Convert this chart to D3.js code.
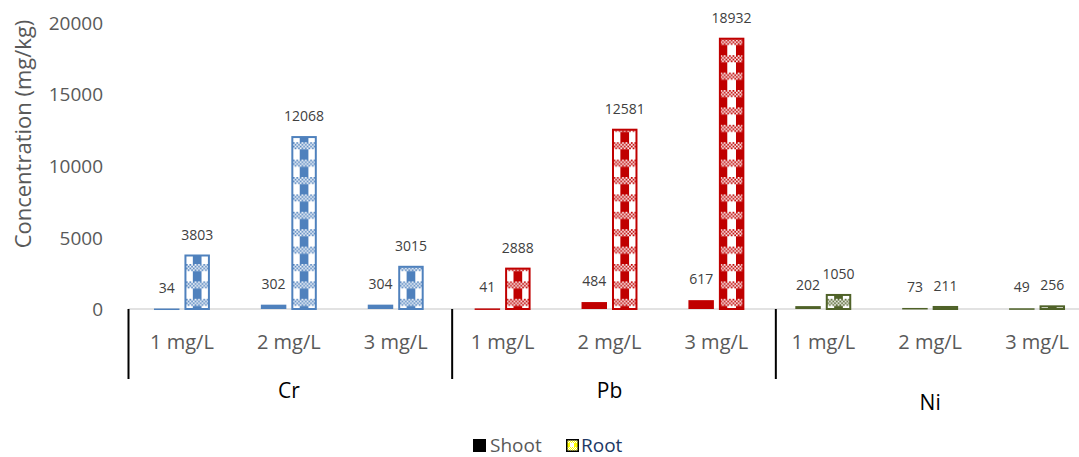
<!DOCTYPE html>
<html>
<head>
<meta charset="utf-8">
<script src="https://cdn.jsdelivr.net/npm/d3@7"></script>
<style>
  html, body { margin: 0; padding: 0; background: #fff; }
  svg { display: block; font-family: "Open Sans", "Noto Sans", sans-serif; }
</style>
</head>
<body>
<svg id="chart" width="1079" height="457"></svg>
<script>
// ---- data ----
const metals = ["Cr", "Pb", "Ni"];
const concentrations = ["1 mg/L", "2 mg/L", "3 mg/L"];
const seriesNames = ["Shoot", "Root"];
const shootValues = [34, 302, 304, 41, 484, 617, 202, 73, 49];
const rootValues = [3803, 12068, 3015, 2888, 12581, 18932, 1050, 211, 256];
const yTicks = [0, 5000, 10000, 15000, 20000];
const metalColors = ["#4F81BD", "#C00000", "#4F6228"];

// ---- layout ----
const W = 1079, H = 457;
const plotLeft = 128.5, plotRight = 1090.5, plotTop = 22.4, plotBottom = 309;
const svg = d3.select("#chart");

const cats = [];
metals.forEach((m, gi) => concentrations.forEach((c, ci) => {
  const i = gi * concentrations.length + ci;
  cats.push({ key: m + "|" + c, metal: m, gi, idx: i, conc: c, shoot: shootValues[i], root: rootValues[i] });
}));

const x0 = d3.scaleBand().domain(cats.map(d => d.key)).range([plotLeft, plotRight]).padding(0);
const step = x0.step();
const x1 = d3.scaleBand().domain(seriesNames).range([0, step]).paddingInner(0.164).paddingOuter(0.836);
const y = d3.scaleLinear().domain([0, 20000]).range([plotBottom, plotTop]);
const bw = x1.bandwidth();

// ---- patterns (plaid) ----
const period = 17.4;
const stripeW = period / 2;
const defs = svg.append("defs");
function makePlaid(id, color, per, sw, xPhase, yPhase, cell) {
  const p = defs.append("pattern").attr("id", id)
    .attr("patternUnits", "userSpaceOnUse")
    .attr("width", per).attr("height", per)
    .attr("x", xPhase).attr("y", yPhase);
  p.append("rect").attr("width", per).attr("height", per).attr("fill", "#fff");
  p.append("rect").attr("x", 0).attr("width", sw).attr("height", per).attr("fill", color);
  const bandH = cell * 4;
  p.append("rect").attr("y", 0).attr("width", per).attr("height", bandH).attr("fill", "#fff");
  const nx = Math.ceil(per / cell);
  for (let r = 0; r < 4; r++) {
    for (let c = 0; c < nx; c++) {
      if ((r + c) % 2 === 0) p.append("rect").attr("x", c * cell).attr("y", r * cell)
        .attr("width", cell).attr("height", cell).attr("fill", color);
    }
  }
}
// stripe centred in the root bar (local coordinates of each category group), or shifted half a period
const rootCenter = x1("Root") + bw / 2;
const stripeShift = [0, 0, 0, 0, 0, 0.5, 0, 0, 0];
metalColors.forEach((c, i) => {
  makePlaid("plaid" + i + "a", c, period, stripeW, rootCenter - stripeW / 2, 3, 1.75);
  makePlaid("plaid" + i + "b", c, period, stripeW, rootCenter - stripeW / 2 - period / 2, 3, 1.75);
});
makePlaid("plaidLegend", "#FFFF00", 8, 4, 0, 0, 1);

// ---- y axis tick labels ----
const yAxis = d3.axisLeft(y).tickValues(yTicks).tickSize(0).tickPadding(0).tickFormat(d3.format("d"));
const ya = svg.append("g").attr("transform", "translate(103,0)").call(yAxis);
ya.select(".domain").remove();
ya.selectAll("text").attr("fill", "#595959").style("font-size", "19px").attr("dy", "0.35em")
  .style("font-family", "'Open Sans', sans-serif");

// y title
svg.append("text")
  .attr("transform", "translate(31,134) rotate(-90)")
  .attr("text-anchor", "middle")
  .attr("fill", "#595959")
  .style("font-size", "22px")
  .text("Concentration (mg/kg)");

// ---- baseline ----
svg.append("line")
  .attr("x1", plotLeft).attr("x2", W).attr("y1", y(0)).attr("y2", y(0))
  .attr("stroke", "#D9D9D9").attr("stroke-width", 1.5);

// ---- bars ----
const g = svg.append("g");
const catG = g.selectAll("g.cat").data(cats).join("g").attr("class", "cat")
  .attr("transform", d => `translate(${x0(d.key)},0)`);

// shoot bars
catG.append("rect")
  .attr("x", x1("Shoot"))
  .attr("width", bw)
  .attr("y", d => y(d.shoot))
  .attr("height", d => Math.max(1.5, y(0) - y(d.shoot)))
  .attr("fill", d => metalColors[d.gi]);

// root bars
catG.append("rect")
  .attr("x", x1("Root") + 1)
  .attr("width", bw - 2)
  .attr("y", d => y(d.root) + 1)
  .attr("height", d => Math.max(1, y(0) - y(d.root) - 1))
  .attr("fill", d => `url(#plaid${d.gi}${stripeShift[d.idx] ? "b" : "a"})`)
  .attr("stroke", d => metalColors[d.gi])
  .attr("stroke-width", 2);

// data labels
const lblStyle = sel => sel.attr("text-anchor", "middle").attr("fill", "#404040").style("font-size", "14px");
catG.append("text").call(lblStyle)
  .attr("x", x1("Shoot") + bw / 2)
  .attr("y", d => y(d.shoot) - 16)
  .text(d => d.shoot);
catG.append("text").call(lblStyle)
  .attr("x", x1("Root") + bw / 2)
  .attr("y", d => y(d.root) - 15)
  .text(d => d.root);

// ---- category axis ----
catG.append("text")
  .attr("x", step / 2)
  .attr("y", 349)
  .attr("text-anchor", "middle")
  .attr("fill", "#595959")
  .style("font-size", "20px")
  .text(d => d.conc);

// group separators
const groupStarts = metals.map(m => x0(m + "|" + concentrations[0]));
const sepShift = [0, 3, 6];
svg.selectAll("line.sep").data(groupStarts).join("line").attr("class", "sep")
  .attr("x1", (d, i) => d + sepShift[i]).attr("x2", (d, i) => d + sepShift[i])
  .attr("y1", y(0)).attr("y2", 379)
  .attr("stroke", "#000").attr("stroke-width", 2);

// group labels
const groupYOffset = [0, 0, 12];
svg.selectAll("text.grp").data(metals).join("text").attr("class", "grp")
  .attr("x", (d, i) => x0(d + "|" + concentrations[1]) + step / 2)
  .attr("y", (d, i) => 398 + groupYOffset[i])
  .attr("text-anchor", "middle")
  .attr("fill", "#000")
  .style("font-size", "21px")
  .text(d => d);

// ---- legend ----
const leg = svg.append("g");
const shootItem = leg.append("g").attr("transform", "translate(473,439)");
shootItem.append("rect").attr("width", 13).attr("height", 13).attr("fill", "#000");
shootItem.append("text").attr("x", 17).attr("y", 13).attr("fill", "#595959").style("font-size", "19px").text(seriesNames[0]);
const rootItem = leg.append("g").attr("transform", "translate(566,439)");
rootItem.append("rect").attr("x", 0.75).attr("y", 0.75).attr("width", 11.5).attr("height", 11.5)
  .attr("fill", "url(#plaidLegend)").attr("stroke", "#000").attr("stroke-width", 1.5);
rootItem.append("text").attr("x", 15).attr("y", 13).attr("fill", "#203864").style("font-size", "19px").text(seriesNames[1]);
</script>
</body>
</html>
